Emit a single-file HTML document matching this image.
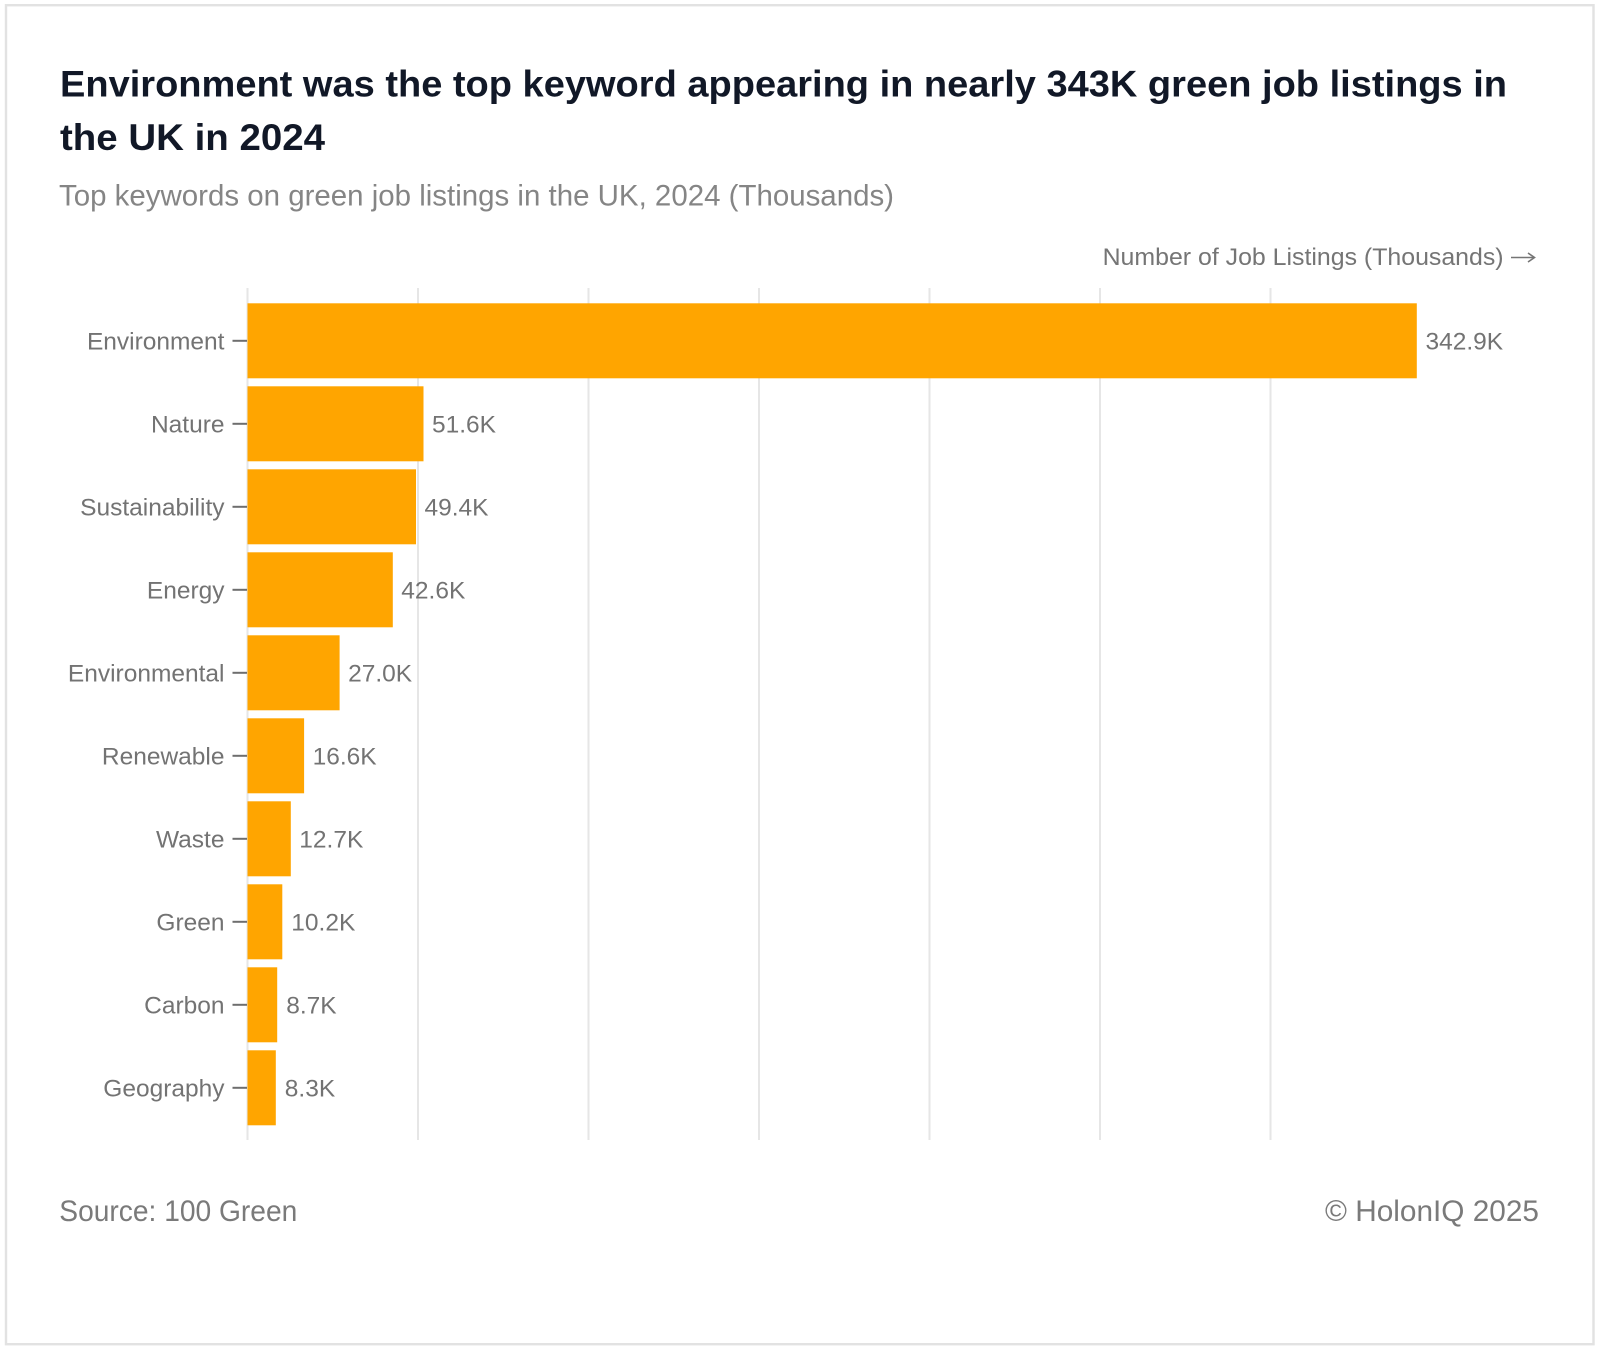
<!DOCTYPE html>
<html>
<head>
<meta charset="utf-8">
<style>
  html, body { margin: 0; padding: 0; background: #ffffff; }
  body { width: 1600px; height: 1351px; overflow: hidden; }
  svg { display: block; }
  text { font-family: "Liberation Sans", Arial, sans-serif; }
</style>
</head>
<body>
<svg width="1600" height="1351" viewBox="0 0 1600 1351" xmlns="http://www.w3.org/2000/svg">
  <rect x="0" y="0" width="1600" height="1351" fill="#ffffff"/>
  <!-- card border -->
  <rect x="6" y="5.2" width="1587.5" height="1339" fill="#ffffff" stroke="#e2e2e2" stroke-width="2.4"/>

  <!-- Title -->
  <text x="60" y="96.7" font-size="37.5" font-weight="bold" fill="#111827" textLength="1447" lengthAdjust="spacingAndGlyphs">Environment was the top keyword appearing in nearly 343K green job listings in</text>
  <text x="60" y="150" font-size="37.5" font-weight="bold" fill="#111827" textLength="265" lengthAdjust="spacingAndGlyphs">the UK in 2024</text>

  <!-- Subtitle -->
  <text x="59" y="205.7" font-size="30" fill="#858585" textLength="835" lengthAdjust="spacingAndGlyphs">Top keywords on green job listings in the UK, 2024 (Thousands)</text>

  <!-- Axis title -->
  <text x="1503.6" y="265" font-size="24" fill="#757575" text-anchor="end" textLength="401" lengthAdjust="spacingAndGlyphs">Number of Job Listings (Thousands)</text>
  <g stroke="#757575" stroke-width="1.6" fill="none">
    <line x1="1511" y1="257.5" x2="1534" y2="257.5"/>
    <polyline points="1528,253 1534.5,257.5 1528,262"/>
  </g>

  <!-- Gridlines -->
  <g stroke="#e6e6e6" stroke-width="2">
    <line x1="247.5" y1="288" x2="247.5" y2="1140"/>
    <line x1="418" y1="288" x2="418" y2="1140"/>
    <line x1="588.5" y1="288" x2="588.5" y2="1140"/>
    <line x1="759" y1="288" x2="759" y2="1140"/>
    <line x1="929.5" y1="288" x2="929.5" y2="1140"/>
    <line x1="1100" y1="288" x2="1100" y2="1140"/>
    <line x1="1270.5" y1="288" x2="1270.5" y2="1140"/>
  </g>

  <!-- Bars -->
  <g fill="#FFA500">
    <rect x="247.5" y="303.3" width="1169.3" height="75"/>
    <rect x="247.5" y="386.3" width="176.0" height="75"/>
    <rect x="247.5" y="469.3" width="168.5" height="75"/>
    <rect x="247.5" y="552.3" width="145.3" height="75"/>
    <rect x="247.5" y="635.3" width="92.1" height="75"/>
    <rect x="247.5" y="718.3" width="56.6" height="75"/>
    <rect x="247.5" y="801.3" width="43.3" height="75"/>
    <rect x="247.5" y="884.3" width="34.8" height="75"/>
    <rect x="247.5" y="967.3" width="29.7" height="75"/>
    <rect x="247.5" y="1050.3" width="28.3" height="75"/>
  </g>

  <!-- Ticks -->
  <g stroke="#6e6e6e" stroke-width="2">
    <line x1="232.5" y1="340.8" x2="247" y2="340.8"/>
    <line x1="232.5" y1="423.8" x2="247" y2="423.8"/>
    <line x1="232.5" y1="506.8" x2="247" y2="506.8"/>
    <line x1="232.5" y1="589.8" x2="247" y2="589.8"/>
    <line x1="232.5" y1="672.8" x2="247" y2="672.8"/>
    <line x1="232.5" y1="755.8" x2="247" y2="755.8"/>
    <line x1="232.5" y1="838.8" x2="247" y2="838.8"/>
    <line x1="232.5" y1="921.8" x2="247" y2="921.8"/>
    <line x1="232.5" y1="1004.8" x2="247" y2="1004.8"/>
    <line x1="232.5" y1="1087.8" x2="247" y2="1087.8"/>
  </g>

  <!-- Category labels -->
  <g font-size="24.5" fill="#737373" text-anchor="end">
    <text x="224.5" y="349.6">Environment</text>
    <text x="224.5" y="432.6">Nature</text>
    <text x="224.5" y="515.6">Sustainability</text>
    <text x="224.5" y="598.6">Energy</text>
    <text x="224.5" y="681.6">Environmental</text>
    <text x="224.5" y="764.6">Renewable</text>
    <text x="224.5" y="847.6">Waste</text>
    <text x="224.5" y="930.6">Green</text>
    <text x="224.5" y="1013.6">Carbon</text>
    <text x="224.5" y="1096.6">Geography</text>
  </g>

  <!-- Value labels -->
  <g font-size="24.5" fill="#737373">
    <text x="1425.5" y="349.6">342.9K</text>
    <text x="432" y="432.6">51.6K</text>
    <text x="424.5" y="515.6">49.4K</text>
    <text x="401.3" y="598.6">42.6K</text>
    <text x="348.1" y="681.6">27.0K</text>
    <text x="312.6" y="764.6">16.6K</text>
    <text x="299.3" y="847.6">12.7K</text>
    <text x="291.3" y="930.6">10.2K</text>
    <text x="286.2" y="1013.6">8.7K</text>
    <text x="284.8" y="1096.6">8.3K</text>
  </g>

  <!-- Footer -->
  <text x="59.3" y="1221" font-size="30" fill="#7a7a7a" textLength="238" lengthAdjust="spacingAndGlyphs">Source: 100 Green</text>
  <text x="1539" y="1221" font-size="30" fill="#7a7a7a" text-anchor="end" textLength="214" lengthAdjust="spacingAndGlyphs">© HolonIQ 2025</text>
</svg>
</body>
</html>
